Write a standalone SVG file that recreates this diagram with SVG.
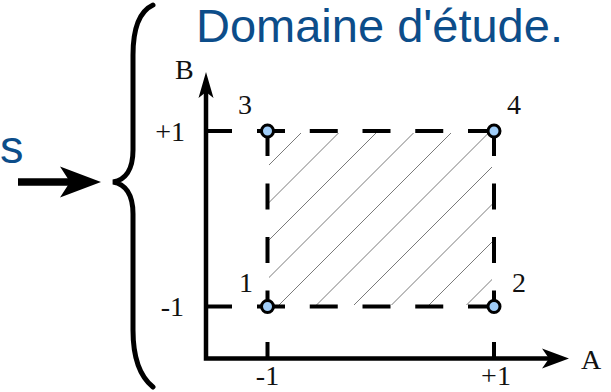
<svg xmlns="http://www.w3.org/2000/svg" width="611" height="392" viewBox="0 0 611 392">
<style>
.title{font-family:"Liberation Sans",Arial,sans-serif;font-size:47px;fill:#0c4d8a}
.lbl{font-family:"Liberation Serif","Times New Roman",serif;font-size:28px;fill:#111}
.axis{stroke:#000;stroke-width:4.5;fill:none}
.tick{stroke:#000;stroke-width:4;fill:none}
.dash{stroke:#000;stroke-width:4;fill:none}
.hatch{stroke:#7a7a7a;stroke-width:1;fill:none}
.pt{fill:#a0cdf8;stroke:#000;stroke-width:3}
.brace{stroke:#000;stroke-width:5;fill:none;stroke-linecap:round}
</style>
<defs>
<clipPath id="hc"><rect x="269" y="133" width="223" height="172"/></clipPath>
</defs>
<rect width="611" height="392" fill="#fff"/>
<g id="title"><text class="title" x="196" y="42">Domaine d'étude.</text></g>
<g id="left-label"><text class="title" x="0" y="163">s</text></g>
<g id="connectors">
<line x1="18" y1="182" x2="70" y2="182" stroke="#000" stroke-width="7.5"/>
<path d="M101,182 L60,166.5 L70,182 L60,197.5 Z" fill="#000"/>
</g>
<g id="brace"><path class="brace" d="M153,5 C138,12 133,30 133,55 L133,150 C133,170 125,180 113,182 C125,184 133,194 133,214 L133,330 C133,355 138,375 153,387"/></g>
<g id="hatching" clip-path="url(#hc)">
<path class="hatch" d="M114,320 L314,120 M151.5,320 L351.5,120 M189,320 L389,120 M226.5,320 L426.5,120 M264,320 L464,120 M301.5,320 L501.5,120 M339,320 L539,120 M376.5,320 L576.5,120 M414,320 L614,120 M451.5,320 L651.5,120"/>
</g>
<g id="domain">
<path class="dash" d="M257,131 H496" stroke-dasharray="28 24.75"/>
<path class="dash" d="M257,306.5 H496" stroke-dasharray="28 24.75"/>
<path class="dash" d="M267.5,130 V310" stroke-dasharray="26 27.5"/>
<path class="dash" d="M494,130 V310" stroke-dasharray="26 27.5"/>
</g>
<g id="axes">
<line class="tick" x1="205" y1="131" x2="232" y2="131"/>
<line class="tick" x1="205" y1="306.5" x2="232" y2="306.5"/>
<line class="tick" x1="267.5" y1="342" x2="267.5" y2="358"/>
<line class="tick" x1="494" y1="342" x2="494" y2="358"/>
<path class="axis" d="M206,90 V358.5 H550"/>
<path d="M206,72 L198.5,98 L206,92 L213.5,98 Z" fill="#000"/>
<path d="M569,358.5 L542,348.5 L549,358.5 L542,368.5 Z" fill="#000"/>
<text class="lbl" x="175" y="79">B</text>
<text class="lbl" x="581" y="369">A</text>
<text class="lbl" x="185" y="141" text-anchor="end">+1</text>
<text class="lbl" x="184" y="316" text-anchor="end">-1</text>
<text class="lbl" x="267.5" y="385" text-anchor="middle">-1</text>
<text class="lbl" x="496" y="385" text-anchor="middle">+1</text>
</g>
<g id="p1"><circle class="pt" cx="267.5" cy="306.5" r="6"/><text class="lbl" x="239" y="292">1</text></g>
<g id="p2"><circle class="pt" cx="494" cy="306.5" r="6"/><text class="lbl" x="512" y="292">2</text></g>
<g id="p3"><circle class="pt" cx="267.5" cy="131" r="6"/><text class="lbl" x="238" y="114">3</text></g>
<g id="p4"><circle class="pt" cx="494" cy="131" r="6"/><text class="lbl" x="507" y="114">4</text></g>
</svg>
